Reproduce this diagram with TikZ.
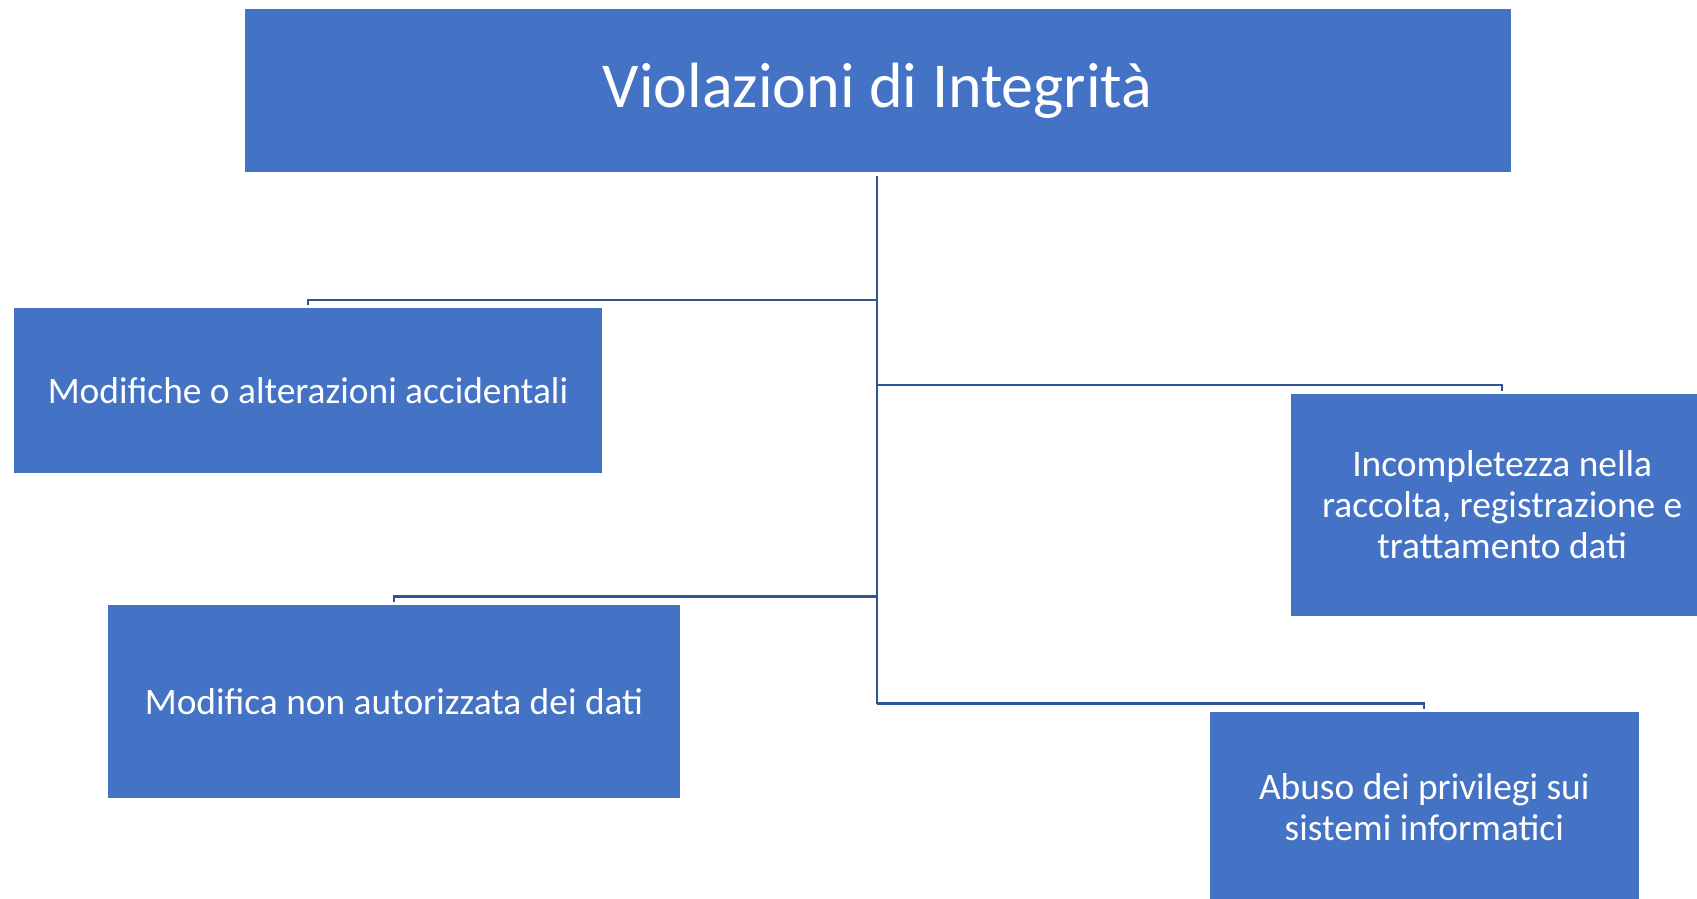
\documentclass[tikz,border=0pt]{standalone}
\usepackage{fontspec}
\setmainfont{Carlito}
\definecolor{boxblue}{HTML}{4472C4}
\definecolor{linkblue}{HTML}{2F5597}
\begin{document}
\begin{tikzpicture}[x=1pt,y=-1pt,
  box/.style={fill=boxblue, draw=none, text=white, align=center, inner sep=0pt,
    font=\fontsize{37.4}{41}\selectfont},
  link/.style={draw=linkblue, line width=2.2pt}]
\useasboundingbox (0,0) rectangle (1697,899);
\clip (0,0) rectangle (1697,899);
\node[box, minimum width=1266.3pt, minimum height=163.4pt, font=\fontsize{64}{70}\selectfont] (root) at (877.7,90.4) {Violazioni di Integrità};
\node[box, minimum width=587.7pt, minimum height=164.5pt] (b1) at (308,390.7) {Modifiche o alterazioni accidentali};
\node[box, minimum width=422pt, minimum height=221.8pt] (b2) at (1502.2,504.9) {Incompletezza nella\\raccolta, registrazione e\\trattamento dati};
\node[box, minimum width=571.5pt, minimum height=192.7pt] (b3) at (394,701.4) {Modifica non autorizzata dei dati};
\node[box, minimum width=428.6pt, minimum height=190pt] (b4) at (1424.3,807.2) {Abuso dei privilegi sui\\sistemi informatici};
\coordinate (j1) at (876.7,299.8);
\coordinate (j2) at (876.7,385.3);
\coordinate (j3) at (876.7,596.4);
\coordinate (j4) at (876.7,703.5);
\draw[link] ([yshift=-4pt]root.south -| j1) -- (j4);
\draw[link] (j1) -| ([yshift=3pt]b1.north);
\draw[link] (j2) -| ([yshift=3pt]b2.north);
\draw[link] (j3) -| ([yshift=3pt]b3.north);
\draw[link] (j4) -| ([yshift=3pt]b4.north);
\end{tikzpicture}
\end{document}
